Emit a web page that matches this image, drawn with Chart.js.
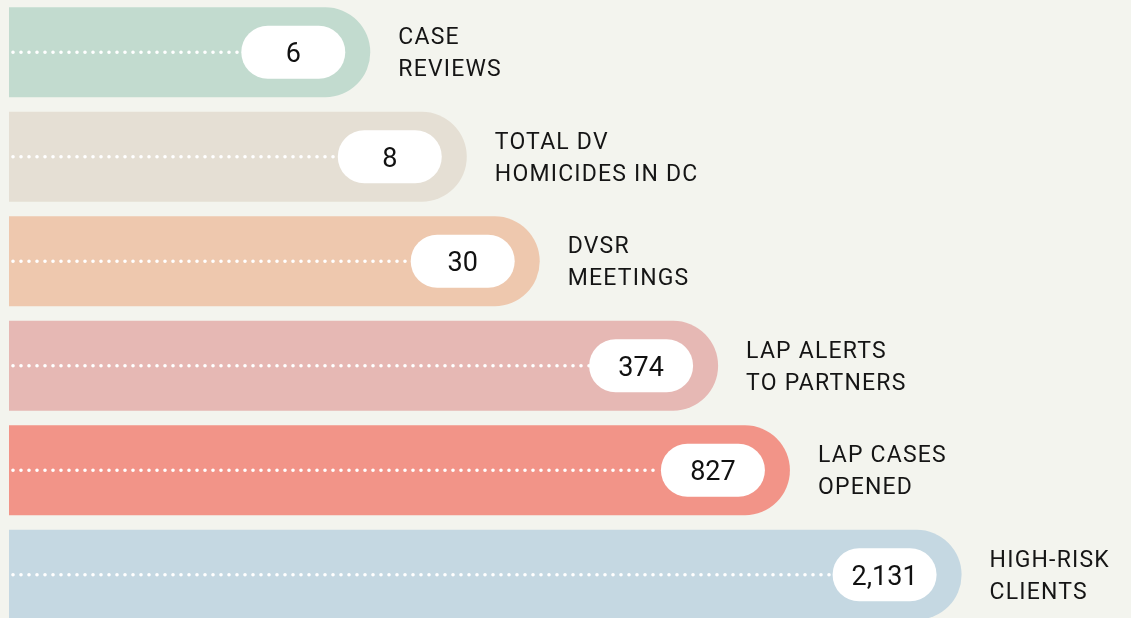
<!DOCTYPE html>
<html>
<head>
<meta charset="utf-8">
<script src="https://cdn.jsdelivr.net/npm/chart.js@4"></script>
<style>
  html, body { margin: 0; padding: 0; background: #f3f4ee; overflow: hidden; }
  #wrap { width: 1131px; height: 627px; position: relative; }
</style>
</head>
<body>
<div id="wrap"><canvas id="myChart"></canvas></div>
<script>
// Categorias (cada rótulo em duas linhas)
const categories = [
    ['CASE', 'REVIEWS'],
    ['TOTAL DV', 'HOMICIDES IN DC'],
    ['DVSR', 'MEETINGS'],
    ['LAP ALERTS', 'TO PARTNERS'],
    ['LAP CASES', 'OPENED'],
    ['HIGH-RISK', 'CLIENTS']
];

// Valores mostrados nas etiquetas brancas
const values = [6, 8, 30, 374, 827, 2131];

// Comprimento das barras (escala ilustrativa, não proporcional aos valores)
const barLengths = [322, 408, 473, 632, 696, 849];

const barColors = ['#c2dbcf', '#e5dfd4', '#eec8ae', '#e6b8b4', '#f29488', '#c5d8e2'];

// Plugin para desenhar pontilhado, etiqueta e texto
const decorPlugin = {
    id: 'decor',
    afterDatasetsDraw(chart) {
        const c = chart.ctx;
        const meta = chart.getDatasetMeta(0);
        meta.data.forEach((bar, i) => {
            const end = bar.x;
            const cy = bar.y;
            const pillW = 104, pillH = 53;
            const pillX = end - 25 - pillW;

            // linha pontilhada
            c.save();
            c.strokeStyle = '#ffffff';
            c.lineWidth = 3.6;
            c.lineCap = 'round';
            c.setLineDash([0, 8]);
            c.beginPath();
            c.moveTo(bar.base + 4, cy);
            c.lineTo(pillX, cy);
            c.stroke();
            c.restore();

            // etiqueta branca
            c.save();
            c.fillStyle = '#ffffff';
            c.beginPath();
            c.roundRect(pillX, cy - pillH / 2, pillW, pillH, pillH / 2);
            c.fill();
            c.fillStyle = '#111111';
            c.font = '27px Roboto';
            c.textAlign = 'center';
            c.textBaseline = 'alphabetic';
            c.fillText(values[i].toLocaleString('en-US'), pillX + pillW / 2, cy + 10);
            c.restore();

            // texto à direita
            c.save();
            c.fillStyle = '#151515';
            c.font = '23px Roboto';
            c.letterSpacing = '1.2px';
            c.textAlign = 'left';
            c.textBaseline = 'alphabetic';
            const lines = categories[i];
            c.fillText(lines[0], end + 28, cy - 8);
            c.fillText(lines[1], end + 28, cy + 24);
            c.restore();
        });
    }
};

var ctx = document.getElementById('myChart');
var myChart = new Chart(ctx, {
    type: 'bar',
    data: {
        labels: categories,
        datasets: [{
            data: barLengths,
            backgroundColor: barColors,
            borderRadius: 100,
            borderSkipped: 'start',
            barPercentage: 0.86,
            categoryPercentage: 1
        }]
    },
    options: {
        indexAxis: 'y',
        responsive: true,
        maintainAspectRatio: false,
        animation: false,
        layout: { padding: { left: 9, right: 0, top: 0, bottom: 0 } },
        plugins: {
            legend: { display: false },
            tooltip: { enabled: false }
        },
        scales: {
            x: { display: false, min: 0, max: 1000 },
            y: { display: false }
        }
    },
    plugins: [decorPlugin]
});
</script>
</body>
</html>
